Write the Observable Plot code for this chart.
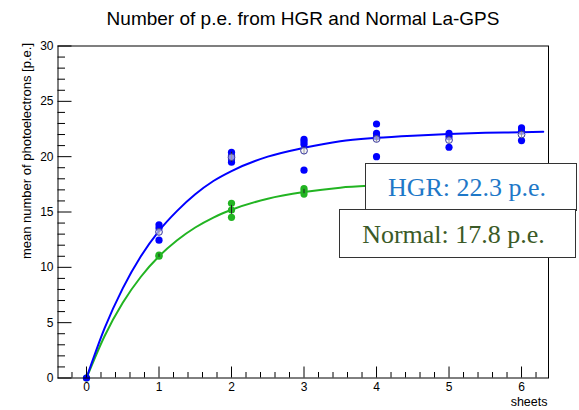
<!DOCTYPE html>
<html><head><meta charset="utf-8">
<script src="https://cdn.jsdelivr.net/npm/d3@7"></script>
<script src="https://cdn.jsdelivr.net/npm/@observablehq/plot@0.6"></script>
<style>
body{margin:0;background:#fff;}
#wrap{position:relative;width:579px;height:410px;overflow:hidden;font-family:"Liberation Sans",Arial,sans-serif;}
#title{position:absolute;left:0;top:9px;width:579px;padding-left:27px;box-sizing:border-box;text-align:center;font-size:19px;line-height:19px;color:#000;white-space:nowrap;}
.box{position:absolute;background:#fff;border:1.5px solid #333;box-sizing:border-box;font-family:"Liberation Serif","Times New Roman",serif;font-size:26px;display:flex;align-items:center;justify-content:center;white-space:nowrap;padding-right:8px;padding-top:3px;}
#plot{position:absolute;left:0;top:0;}
</style></head>
<body>
<div id="wrap">
  <div id="plot"></div>
  <div id="title">Number of p.e. from HGR and Normal La-GPS</div>
  <div class="box" id="hgrBox" style="left:365px;top:162.5px;width:212px;height:48px;color:#1e78c8;">HGR: 22.3 p.e.</div>
  <div class="box" id="normBox" style="left:339px;top:209px;width:237px;height:49px;color:#3b5a27;">Normal: 17.8 p.e.</div>
</div>
<script>
// ---- data ----
const sheets = [0, 1, 2, 3, 4, 5, 6];

// individual HGR measurements
const hgrSheet = [0, 1, 1, 1, 2, 2, 2, 2, 3, 3, 3, 3, 4, 4, 4, 4, 5, 5, 5, 6, 6, 6];
const hgrPE    = [0, 13.85, 13.55, 12.45, 20.4, 20.1, 19.8, 19.5, 21.56, 21.35, 21.12, 18.78, 22.95, 22.1, 21.8, 20.0, 22.1, 21.8, 20.85, 22.6, 22.3, 21.45];

// individual Normal measurements (visible ones)
const normalSheet = [0, 1, 1, 2, 2, 2, 3, 3, 3];
const normalPE    = [0, 11.0, 11.1, 15.78, 15.18, 14.52, 17.12, 16.9, 16.62];

// mean markers with error bars
const hgrMean   = [0, 13.2, 19.95, 20.54, 21.6, 21.5, 22.0];
const hgrErr    = [0, 0.3, 0.45, 0.35, 0.3, 0.3, 0.3];
const normalMeanSheet = [1, 2, 3];
const normalMean = [11.05, 15.2, 16.85];
const normalErr  = [0.15, 0.4, 0.2];

// fitted curves
const fitX      = [0, 0.25, 0.5, 0.75, 1, 1.25, 1.5, 1.75, 2, 2.5, 3, 3.5, 4, 4.5, 5, 5.5, 6, 6.3];
const hgrFit    = [0, 4.5, 8.1, 11.0, 13.3, 15.1, 16.6, 17.8, 18.7, 20.0, 20.8, 21.4, 21.7, 21.9, 22.05, 22.15, 22.2, 22.25];
const normalFit = [0, 3.8, 6.8, 9.15, 11.0, 12.45, 13.6, 14.5, 15.2, 16.2, 16.8, 17.2, 17.4, 17.55, 17.65, 17.7, 17.75, 17.76];

// axis ticks
const xMajor = [0, 1, 2, 3, 4, 5, 6];
const xMinor = d3.range(-1, 32).map(i => i / 5).filter(v => v > -0.39 && v < 6.37 && Math.abs(v - Math.round(v)) > 1e-6);
const yMajor = [0, 5, 10, 15, 20, 25, 30];
const yMinor = d3.range(0, 31).filter(v => v % 5 !== 0);

// ---- layout ----
const W = 579, H = 410;
const mL = 57.5, mR = 31, mT = 45.5, mB = 32.5;
const fw = W - mL - mR, fh = H - mT - mB;

const blue = "#0000ff", green = "#22b422";

const hgrPts = hgrSheet.map((s, i) => ({s, v: hgrPE[i]}));
const normPts = normalSheet.map((s, i) => ({s, v: normalPE[i]}));
const hgrM = sheets.map((s, i) => ({s, v: hgrMean[i], e: hgrErr[i]}));
const normM = normalMeanSheet.map((s, i) => ({s, v: normalMean[i], e: normalErr[i]}));
const hgrLine = fitX.map((x, i) => ({x, v: hgrFit[i]}));
const normLine = fitX.map((x, i) => ({x, v: normalFit[i]}));

const chart = Plot.plot({
  width: W, height: H,
  marginLeft: mL, marginRight: mR, marginTop: mT, marginBottom: mB,
  style: {fontFamily: "Liberation Sans, Arial, sans-serif", fontSize: "12px", background: "#fff", color: "#000"},
  x: {domain: [-0.393, 6.372], axis: null},
  y: {domain: [0, 30], axis: null},
  marks: [
    Plot.line(normLine, {x: "x", y: "v", stroke: green, strokeWidth: 2, curve: "monotone-x"}),
    Plot.line(hgrLine, {x: "x", y: "v", stroke: blue, strokeWidth: 2, curve: "monotone-x"}),
    Plot.dot(normPts, {x: "s", y: "v", r: 3.6, fill: green, stroke: "none"}),
    Plot.dot(hgrPts, {x: "s", y: "v", r: 3.6, fill: blue, stroke: "none"}),
    Plot.ruleX(normM, {x: "s", y1: d => d.v - d.e, y2: d => d.v + d.e, stroke: "#222", strokeWidth: 1}),
    Plot.ruleX(hgrM.slice(1), {x: "s", y1: d => d.v - d.e, y2: d => d.v + d.e, stroke: "#222", strokeWidth: 1}),
    Plot.dot(hgrM.slice(1), {x: "s", y: "v", r: 3.4, fill: "#eee", fillOpacity: 0.6, stroke: "#3a3aa0", strokeWidth: 1}),
    Plot.frame({stroke: "#000", strokeWidth: 1}),
    Plot.tickY(yMajor, {y: d => d, insetRight: fw - 14, stroke: "#000"}),
    Plot.tickY(yMinor, {y: d => d, insetRight: fw - 7.5, stroke: "#000"}),
    Plot.tickX(xMajor, {x: d => d, insetTop: fh - 11, stroke: "#000"}),
    Plot.tickX(xMinor, {x: d => d, insetTop: fh - 5.5, stroke: "#000"}),
    Plot.axisY(yMajor, {anchor: "left", tickSize: 0, tickPadding: 4.5, fontSize: 12, label: null}),
    Plot.axisX(xMajor, {anchor: "bottom", tickSize: 0, tickPadding: 4, fontSize: 12, label: null}),
    Plot.text(["mean number of photoelectrons [p.e.]"], {frameAnchor: "top-left", text: d => d, rotate: -90, textAnchor: "end", dx: -36.5, dy: -3, fontSize: 13, fill: "#000"}),
    Plot.text(["sheets"], {frameAnchor: "bottom-right", text: d => d, textAnchor: "end", dx: -1, dy: 27.5, fontSize: 12.5, fill: "#000"})
  ]
});
document.getElementById("plot").appendChild(chart);
</script>
</body></html>
